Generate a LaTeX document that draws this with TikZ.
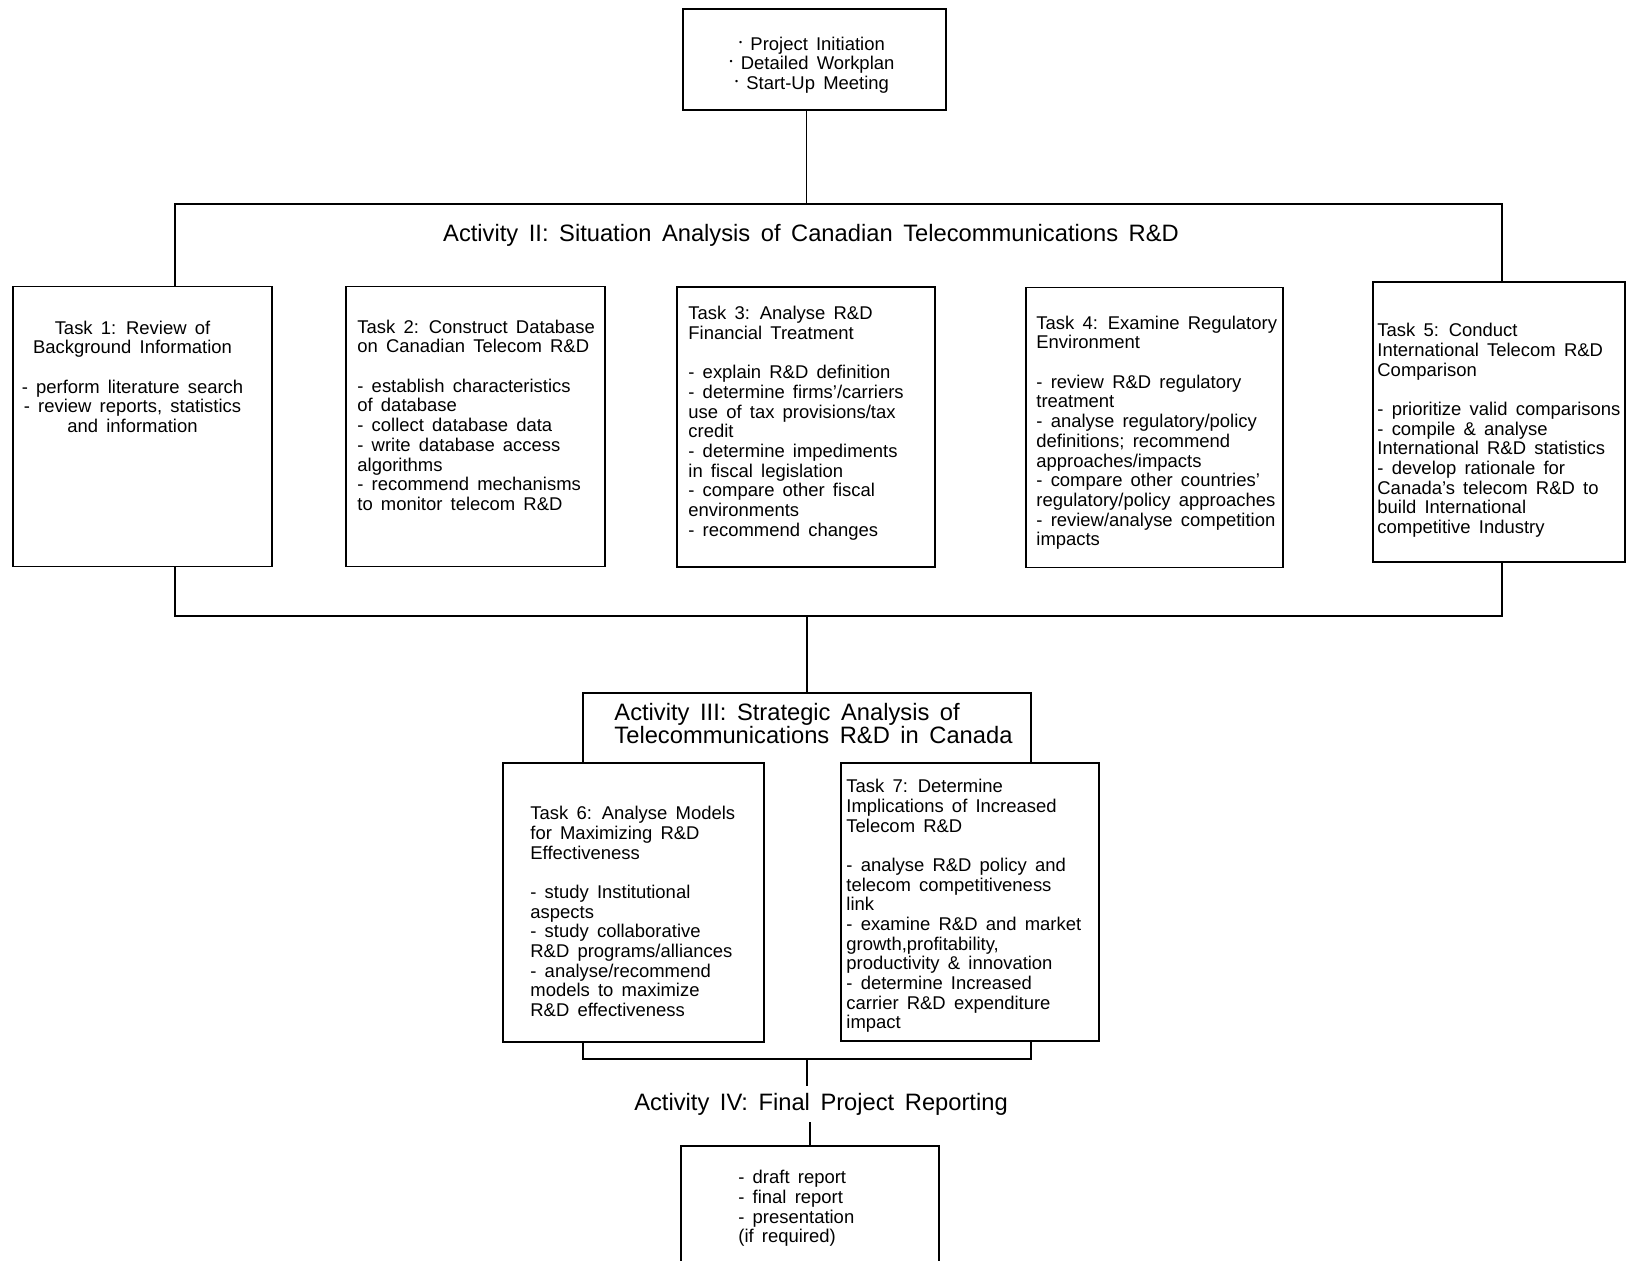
\documentclass[tikz,border=0pt]{standalone}
\usepackage{fontspec}
\setmainfont[WordSpace=1.6]{Liberation Sans}
\usetikzlibrary{positioning}

\begin{document}
\begin{tikzpicture}[
  x=0.02cm, y=-0.02cm,
  node distance=0.5cm,
  frame/.style={rectangle, draw, line width=1.1pt, inner sep=0pt},
  taskbox/.style={rectangle, draw, fill=white, line width=1.1pt, inner sep=0pt, minimum width=5.18cm, minimum height=5.6cm},
  tasktext/.style={inner sep=0pt, align=left, font=\fontsize{10.5}{11.2}\selectfont},
  heading/.style={inner sep=0pt, align=center, font=\fontsize{13.5}{13.2}\selectfont},
  link/.style={line width=1.1pt}
]
\useasboundingbox (0,0) rectangle (1630,1261);

\node[frame, minimum width=5.26cm, minimum height=2.02cm] (start) at (814.5,59.5) {};
\node[tasktext, align=center] (starttxt) at (812,65)
  {\raisebox{.5ex}{\tiny\textbullet} Project Initiation\\\raisebox{.5ex}{\tiny\textbullet} Detailed Workplan\\\raisebox{.5ex}{\tiny\textbullet} Start-Up Meeting};

\node[frame, minimum width=26.54cm, minimum height=8.24cm] (act2) at (838.5,410) {};
\node[heading] (act2title) at (811,235) {Activity II: Situation Analysis of Canadian Telecommunications R\&D};

\node[taskbox] (task1) at (142.5,426.5) {};
\node[taskbox] (task2) at (475.5,426.5) {};
\node[taskbox, minimum width=5.16cm] (task3) at (806,427) {};
\node[taskbox, minimum width=5.14cm] (task4) at (1154.5,427.5) {};
\node[taskbox, minimum width=5.04cm] (task5) at (1499,422) {};

\node[tasktext, align=center, below=0.7cm of task1.north, xshift=-0.2cm] (task1txt)
  {Task 1: Review of\\Background Information\\[11.2pt]- perform literature search\\- review reports, statistics\\and information};
\node[tasktext, below right=0.68cm and 0.24cm of task2.north west] (task2txt)
  {Task 2: Construct Database\\on Canadian Telecom R\&D\\[11.2pt]- establish characteristics\\of database\\- collect database data\\- write database access\\algorithms\\- recommend mechanisms\\to monitor telecom R\&D};
\node[tasktext, below right=0.4cm and 0.24cm of task3.north west] (task3txt)
  {Task 3: Analyse R\&D\\Financial Treatment\\[11.2pt]- explain R\&D definition\\- determine firms'/carriers\\use of tax provisions/tax\\credit\\- determine impediments\\in fiscal legislation\\- compare other fiscal\\environments\\- recommend changes};
\node[tasktext, below right=0.58cm and 0.22cm of task4.north west] (task4txt)
  {Task 4: Examine Regulatory\\Environment\\[11.2pt]- review R\&D regulatory\\treatment\\- analyse regulatory/policy\\definitions; recommend\\approaches/impacts\\- compare other countries'\\regulatory/policy approaches\\- review/analyse competition\\impacts};
\node[tasktext, below right=0.84cm and 0.1cm of task5.north west] (task5txt)
  {Task 5: Conduct\\International Telecom R\&D\\Comparison\\[11.2pt]- prioritize valid comparisons\\- compile \& analyse\\International R\&D statistics\\- develop rationale for\\Canada's telecom R\&D to\\build International\\competitive Industry};

\node[frame, minimum width=8.96cm, minimum height=7.32cm] (act3) at (807,876) {};
\node[heading, align=left, below right=0.21cm and 0.64cm of act3.north west] (act3title)
  {Activity III: Strategic Analysis of\\Telecommunications R\&D in Canada};

\node[taskbox, minimum width=5.22cm, minimum height=5.58cm] (task6) at (633.5,902.5) {};
\node[taskbox, minimum width=5.16cm, minimum height=5.56cm] (task7) at (970,902) {};

\node[tasktext, below right=0.88cm and 0.56cm of task6.north west] (task6txt)
  {Task 6: Analyse Models\\for Maximizing R\&D\\Effectiveness\\[11.2pt]- study Institutional\\aspects\\- study collaborative\\R\&D programs/alliances\\- analyse/recommend\\models to maximize\\R\&D effectiveness};
\node[tasktext, below right=0.34cm and 0.12cm of task7.north west] (task7txt)
  {Task 7: Determine\\Implications of Increased\\Telecom R\&D\\[11.2pt]- analyse R\&D policy and\\telecom competitiveness\\link\\- examine R\&D and market\\growth,profitability,\\productivity \& innovation\\- determine Increased\\carrier R\&D expenditure\\impact};

\node[heading, inner sep=4pt] (act4) at (821,1104) {Activity IV: Final Project Reporting};

\node[frame, minimum width=5.16cm, minimum height=2.88cm] (final) at (810,1218) {};
\node[tasktext, below right=0.5cm and 1.16cm of final.north west] (finaltxt)
  {- draft report\\- final report\\- presentation\\(if required)};

\draw[link] ([xshift=-0.16cm]start.south) -- ([xshift=-0.16cm]start.south |- act2.north);
\draw[link] (act2.south -| act3.north) -- (act3.north);
\draw[link] (act3.south) -- (act3.south |- act4.north);
\draw[link] (act4.south -| final.north) -- (final.north);

\end{tikzpicture}
\end{document}
